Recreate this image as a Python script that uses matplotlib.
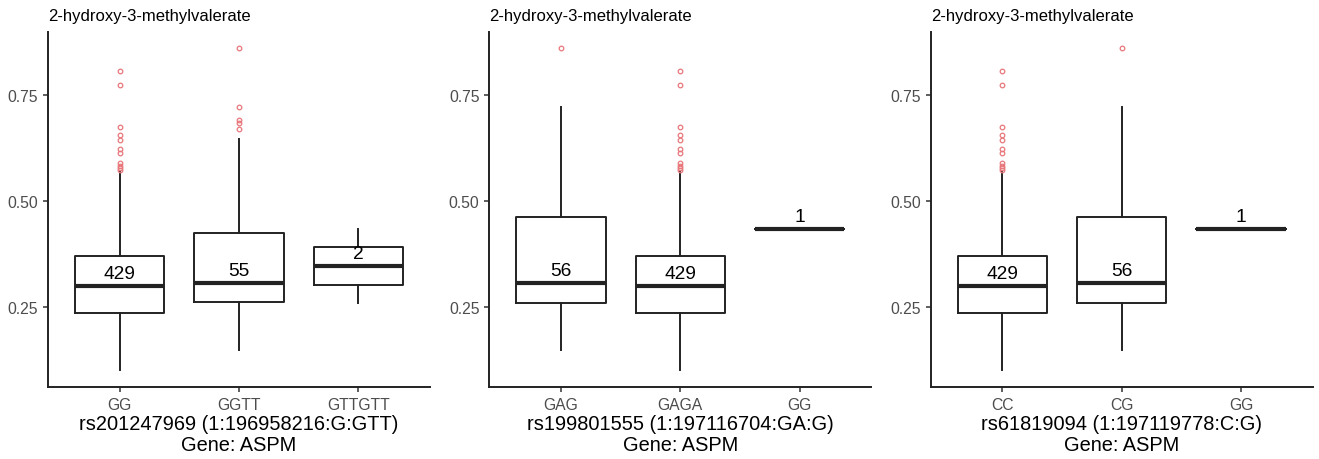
import matplotlib.pyplot as plt
import numpy as np

plt.rcParams['font.family'] = ['Liberation Sans', 'DejaVu Sans']

title = "2-hydroxy-3-methylvalerate"

# per-panel genotype labels, counts and box summaries
snp_labels = ["rs201247969 (1:196958216:G:GTT)\nGene: ASPM",
              "rs199801555 (1:197116704:GA:G)\nGene: ASPM",
              "rs61819094 (1:197119778:C:G)\nGene: ASPM"]
genotypes = [["GG", "GGTT", "GTTGTT"],
             ["GAG", "GAGA", "GG"],
             ["CC", "CG", "GG"]]
counts = [[429, 55, 2], [56, 429, 1], [429, 56, 1]]

# summaries: (whislo, q1, med, q3, whishi)
g429 = (0.102, 0.237, 0.300, 0.370, 0.570)
g55 = (0.149, 0.262, 0.308, 0.425, 0.646)
g2 = (0.259, 0.303, 0.347, 0.392, 0.435)
g56 = (0.149, 0.261, 0.308, 0.462, 0.722)
g1 = (0.435, 0.435, 0.435, 0.435, 0.435)

out429 = [0.806, 0.775, 0.675, 0.656, 0.645, 0.623, 0.613, 0.590, 0.584, 0.579, 0.574]
out55 = [0.862, 0.723, 0.692, 0.685, 0.671]
out56 = [0.862]
out_none = []

summaries = [[g429, g55, g2], [g56, g429, g1], [g429, g56, g1]]
outliers = [[out429, out55, out_none], [out56, out429, out_none], [out429, out56, out_none]]

W, H = 1319, 460
fig = plt.figure(figsize=(W / 100, H / 100), dpi=100)

lefts = [48, 489.3, 930.7]
ax_w = 382
ax_top, ax_bot = 33, 388

for i in range(3):
    ax = fig.add_axes([lefts[i] / W, 1 - ax_bot / H, ax_w / W, (ax_bot - ax_top) / H])
    stats = []
    for s, f in zip(summaries[i], outliers[i]):
        stats.append(dict(whislo=s[0], q1=s[1], med=s[2], q3=s[3], whishi=s[4], fliers=f))
    ax.bxp(stats, positions=[1, 2, 3], widths=0.75, showcaps=False,
           boxprops=dict(color='#222222', linewidth=1.4),
           whiskerprops=dict(color='#222222', linewidth=1.4),
           medianprops=dict(color='#222222', linewidth=3.0, solid_capstyle='butt'),
           flierprops=dict(marker='o', markerfacecolor='none', markeredgecolor='#e8777b',
                           markersize=3.3, markeredgewidth=0.9))
    for j in range(3):
        ax.annotate(str(counts[i][j]), (j + 1, summaries[i][j][2]), xytext=(0, 9.0),
                    textcoords='offset points', ha='center', va='center',
                    fontsize=13.8, color='black')
    ax.set_xlim(0.4, 3.6)
    ax.set_ylim(0.062, 0.899)
    ax.set_yticks([0.25, 0.50, 0.75])
    ax.set_yticklabels(["0.25", "0.50", "0.75"])
    ax.set_xticks([1, 2, 3])
    ax.set_xticklabels(genotypes[i])
    ax.tick_params(colors='#333333', labelcolor='#4d4d4d', labelsize=11.3, width=1.1, length=3.5)
    for side in ['top', 'right']:
        ax.spines[side].set_visible(False)
    for side in ['left', 'bottom']:
        ax.spines[side].set_linewidth(1.4)
        ax.spines[side].set_color('#222222')
    ax.set_xlabel(snp_labels[i], fontsize=14.4, labelpad=2, linespacing=1.1)
    ax.set_title(title, loc='left', fontsize=12, pad=9)

fig.savefig("out.png", dpi=100)
